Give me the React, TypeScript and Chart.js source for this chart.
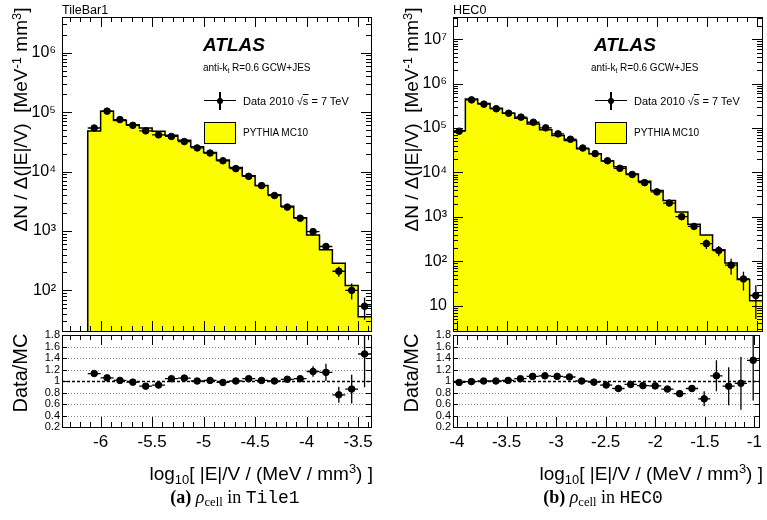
import { useEffect, useRef } from "react"
import { Chart, registerables } from "chart.js"
import type { Plugin } from "chart.js"

Chart.register(...registerables)

// ---------- TileBar1 (a) ----------
const tileBinStart = -6.125
const tileBinWidth = 0.125
const tileMc = [48000, 104000, 72600, 61500, 54100, 47600, 40800, 33700, 26100, 21000, 15600, 11700, 8470, 5840, 4080, 2610, 1670, 858, 482, 286, 121, 36]
const tileData = [54100, 104000, 75000, 60000, 48500, 41500, 39000, 32000, 25000, 20500, 15200, 11200, 8300, 5800, 3950, 2520, 1640, 975, 548, 210, 100, 54]
const tileDataErr = [500, 800, 600, 500, 450, 400, 380, 330, 280, 240, 200, 160, 130, 100, 80, 60, 55, 60, 60, 40, 30, 22]
const tileRatio = [1.13, 1.055, 1.01, 0.98, 0.91, 0.93, 1.04, 1.05, 1.0, 1.01, 0.975, 1.0, 1.04, 1.01, 1.0, 1.03, 1.04, 1.165, 1.15, 0.76, 0.86, 1.47]
const tileRatioErr = [0.01, 0.01, 0.01, 0.01, 0.01, 0.01, 0.01, 0.01, 0.01, 0.01, 0.01, 0.012, 0.015, 0.018, 0.02, 0.025, 0.04, 0.09, 0.15, 0.14, 0.25, 0.58]
const tileXTicks = [-6, -5.5, -5, -4.5, -4, -3.5]
const tileYTicks = [1e2, 1e3, 1e4, 1e5, 1e6]

// ---------- HEC0 (b) ----------
const hecBinStart = -4.04
const hecBinWidth = 0.1236
const hecMc = [87300, 449000, 359000, 278000, 215000, 167000, 123000, 91800, 67600, 52300, 34200, 26400, 18200, 13400, 9180, 6310, 3910, 2350, 1290, 687, 392, 181, 92, 39, 13]
const hecData = [85000, 430000, 345000, 272000, 216000, 176000, 135000, 101000, 74000, 56000, 35500, 26500, 18300, 12400, 9000, 5900, 3650, 2050, 1010, 610, 250, 175, 82, 40, 17]
const hecDataErr = [600, 1500, 1300, 1100, 900, 800, 650, 500, 400, 330, 250, 200, 160, 130, 100, 80, 60, 45, 35, 40, 60, 45, 32, 18, 12]
const hecRatio = [0.975, 0.99, 1.0, 1.0, 1.01, 1.04, 1.08, 1.09, 1.08, 1.07, 1.0, 0.98, 0.93, 0.87, 0.94, 0.92, 0.915, 0.86, 0.78, 0.87, 0.69, 1.09, 0.91, 0.96, 1.36]
const hecRatioErr = [0.01, 0.01, 0.01, 0.01, 0.01, 0.01, 0.01, 0.01, 0.01, 0.01, 0.01, 0.012, 0.015, 0.02, 0.02, 0.03, 0.03, 0.035, 0.045, 0.06, 0.13, 0.27, 0.33, 0.46, 0.7]
const hecXTicks = [-4, -3.5, -3, -2.5, -2, -1.5, -1]
const hecYTicks = [1e1, 1e2, 1e3, 1e4, 1e5, 1e6, 1e7]

const ratioTicks = [0.2, 0.4, 0.6, 0.8, 1, 1.2, 1.4, 1.6, 1.8]

const YELLOW = "#fbfd00"
const SANS = "'Liberation Sans', Arial, Helvetica, sans-serif"
const SERIF = "'Liberation Serif', 'Times New Roman', serif"
const MONO = "'Liberation Mono', 'DejaVu Sans Mono', monospace"
const SUP = "⁰¹²³⁴⁵⁶⁷⁸⁹"

function powerLabel(v: number) {
  const e = Math.round(Math.log10(v))
  if (e === 1) return "10"
  return "10" + String(e).split("").map((d) => SUP[Number(d)]).join("")
}

// ROOT style frame with inward ticks, plus the dotted grid of the ratio pad
const frameTicks: Plugin = {
  id: "frameTicks",
  beforeDatasetsDraw(chart, _args, opts: any) {
    if (!opts.ratio) return
    const { ctx, chartArea: a } = chart
    const y = chart.scales.y
    ctx.save()
    for (const v of ratioTicks) {
      if (v <= (y.min as number) || v >= (y.max as number)) continue
      const py = Math.round(y.getPixelForValue(v)) + 0.5
      ctx.beginPath()
      if (v === 1) {
        ctx.setLineDash([3, 2])
        ctx.strokeStyle = "#000"
        ctx.lineWidth = 1.6
      } else {
        ctx.setLineDash([1, 2])
        ctx.strokeStyle = "#8a8a8a"
        ctx.lineWidth = 1
      }
      ctx.moveTo(a.left, py)
      ctx.lineTo(a.right, py)
      ctx.stroke()
    }
    ctx.restore()
  },
  afterDraw(chart, _args, opts: any) {
    const { ctx, chartArea: a } = chart
    const x = chart.scales.x
    const y = chart.scales.y
    ctx.save()
    ctx.strokeStyle = "#000"
    ctx.lineWidth = 1
    const seg = (x1: number, y1: number, x2: number, y2: number) => {
      ctx.beginPath()
      ctx.moveTo(x1, y1)
      ctx.lineTo(x2, y2)
      ctx.stroke()
    }
    const xmin = x.min as number
    const xmax = x.max as number
    for (let k = Math.ceil(xmin * 10 - 1e-6); k <= Math.floor(xmax * 10 + 1e-6); k++) {
      const px = Math.round(x.getPixelForValue(k / 10)) + 0.5
      const len = k % 5 === 0 ? opts.major : opts.minor
      seg(px, a.top, px, a.top + len)
      seg(px, a.bottom, px, a.bottom - len)
    }
    if (opts.ratio) {
      for (const v of ratioTicks) {
        const py = Math.round(y.getPixelForValue(v)) + 0.5
        seg(a.left, py, a.left + 5, py)
        seg(a.right, py, a.right - 5, py)
      }
    } else {
      const lo = Math.floor(Math.log10(y.min as number))
      const hi = Math.ceil(Math.log10(y.max as number))
      for (let d = lo; d <= hi; d++) {
        for (let m = 1; m <= 9; m++) {
          const v = m * Math.pow(10, d)
          if (v < (y.min as number) || v > (y.max as number)) continue
          const py = Math.round(y.getPixelForValue(v)) + 0.5
          const len = m === 1 ? opts.major : opts.minor
          seg(a.left, py, a.left + len, py)
          seg(a.right, py, a.right - len, py)
        }
      }
    }
    ctx.strokeRect(Math.round(a.left) + 0.5, Math.round(a.top) + 0.5, Math.round(a.right - a.left), Math.round(a.bottom - a.top))
    ctx.restore()
  },
}

// horizontal bin-width bars and vertical error bars on the data points
const errorBars: Plugin = {
  id: "errorBars",
  afterDatasetsDraw(chart) {
    const { ctx, chartArea: a } = chart
    const x = chart.scales.x
    const y = chart.scales.y
    ctx.save()
    ctx.beginPath()
    ctx.rect(a.left, a.top, a.right - a.left, a.bottom - a.top)
    ctx.clip()
    ctx.strokeStyle = "#000"
    ctx.lineWidth = 1.3
    chart.data.datasets.forEach((ds: any) => {
      if (!ds.yErr) return
      ds.data.forEach((p: { x: number; y: number }, i: number) => {
        const px = x.getPixelForValue(p.x)
        const py = y.getPixelForValue(p.y)
        const lo = Math.max(p.y - ds.yErr[i], y.min as number)
        ctx.beginPath()
        ctx.moveTo(x.getPixelForValue(p.x - ds.halfWidth), py)
        ctx.lineTo(x.getPixelForValue(p.x + ds.halfWidth), py)
        ctx.moveTo(px, y.getPixelForValue(lo))
        ctx.lineTo(px, y.getPixelForValue(p.y + ds.yErr[i]))
        ctx.stroke()
      })
    })
    ctx.restore()
  },
}

interface MainProps {
  binStart: number
  binWidth: number
  mc: number[]
  data: number[]
  dataErr: number[]
  yTicks: number[]
  xMin: number
  xMax: number
  yMin: number
  yMax: number
  axisWidth: number
  padRight: number
}

function MainChart(p: MainProps) {
  const chartRef = useRef<HTMLCanvasElement>(null)

  useEffect(() => {
    if (!chartRef.current) return
    const edges = p.mc.map((_, i) => p.binStart + i * p.binWidth)
    const last = p.mc.length - 1
    // left edge of every bin, plus the closing right edge
    const steps = [
      { x: edges[0], y: p.yMin },
      ...p.mc.map((v, i) => ({ x: edges[i], y: v })),
      { x: edges[last] + p.binWidth, y: p.mc[last] },
    ]
    const points = p.data.map((v, i) => ({ x: edges[i] + p.binWidth / 2, y: v }))

    const chart = new Chart(chartRef.current, {
      type: "line",
      data: {
        datasets: [
          {
            data: steps,
            order: 2,
            stepped: "before",
            fill: "start",
            backgroundColor: YELLOW,
            borderColor: "#000",
            borderWidth: 1.5,
            pointRadius: 0,
          },
          {
            type: "scatter",
            data: points,
            order: 1,
            yErr: p.dataErr,
            halfWidth: p.binWidth / 2,
            pointRadius: 3.3,
            backgroundColor: "#000",
            borderColor: "#000",
          } as any,
        ],
      },
      options: {
        animation: false,
        responsive: true,
        maintainAspectRatio: false,
        events: [],
        layout: { padding: { top: 17, right: p.padRight, bottom: 1, left: 0 } },
        plugins: {
          legend: { display: false },
          tooltip: { enabled: false },
          frameTicks: { major: 10, minor: 5, ratio: false },
        } as any,
        scales: {
          x: { type: "linear", min: p.xMin, max: p.xMax, display: false },
          y: {
            type: "logarithmic",
            min: p.yMin,
            max: p.yMax,
            afterBuildTicks: (axis) => {
              axis.ticks = p.yTicks.map((value) => ({ value }))
            },
            afterFit: (axis: any) => {
              axis.width = p.axisWidth
              // the decade labels sit well inside the frame, no overflow room needed
              axis.paddingTop = 0
              axis.paddingBottom = 0
            },
            grid: { display: false, drawTicks: false },
            border: { display: false },
            ticks: {
              autoSkip: false,
              padding: 6,
              color: "#000",
              font: { family: SANS, size: 16 },
              callback: (v) => powerLabel(Number(v)),
            },
          },
        },
      },
      plugins: [frameTicks, errorBars],
    })

    return () => {
      chart.destroy()
    }
  }, [])

  return <canvas ref={chartRef} />
}

interface RatioProps {
  binStart: number
  binWidth: number
  ratio: number[]
  ratioErr: number[]
  xTicks: number[]
  xMin: number
  xMax: number
  axisWidth: number
  padRight: number
}

function RatioChart(p: RatioProps) {
  const chartRef = useRef<HTMLCanvasElement>(null)

  useEffect(() => {
    if (!chartRef.current) return
    const points = p.ratio.map((v, i) => ({ x: p.binStart + (i + 0.5) * p.binWidth, y: v }))

    const chart = new Chart(chartRef.current, {
      type: "scatter",
      data: {
        datasets: [
          {
            data: points,
            yErr: p.ratioErr,
            halfWidth: p.binWidth / 2,
            pointRadius: 3.3,
            backgroundColor: "#000",
            borderColor: "#000",
          } as any,
        ],
      },
      options: {
        animation: false,
        responsive: true,
        maintainAspectRatio: false,
        events: [],
        layout: { padding: { top: 15, right: p.padRight, bottom: 0, left: 0 } },
        plugins: {
          legend: { display: false },
          tooltip: { enabled: false },
          frameTicks: { major: 10, minor: 5, ratio: true },
        } as any,
        scales: {
          x: {
            type: "linear",
            min: p.xMin,
            max: p.xMax,
            afterBuildTicks: (axis) => {
              axis.ticks = p.xTicks.map((value) => ({ value }))
            },
            afterFit: (axis) => {
              axis.height = 63
            },
            grid: { display: false, drawTicks: false },
            border: { display: false },
            ticks: {
              autoSkip: false,
              maxRotation: 0,
              padding: 5,
              color: "#000",
              font: { family: SANS, size: 17 },
              callback: (v) => String(v),
            },
          },
          y: {
            type: "linear",
            min: 0.2,
            max: 1.8,
            afterBuildTicks: (axis) => {
              axis.ticks = ratioTicks.map((value) => ({ value }))
            },
            afterFit: (axis) => {
              axis.width = p.axisWidth
            },
            grid: { display: false, drawTicks: false },
            border: { display: false },
            ticks: {
              autoSkip: false,
              padding: 2,
              color: "#000",
              font: { family: SANS, size: 11, lineHeight: 1 },
              callback: (v) => (Number(v) === 1 ? "1" : Number(v).toFixed(1)),
            },
          },
        },
      },
      plugins: [frameTicks, errorBars],
    })

    return () => {
      chart.destroy()
    }
  }, [])

  return <canvas ref={chartRef} />
}

// text placed by its baseline
function Txt({ x, base, size, children, style }: { x: number; base: number; size: number; children: any; style?: any }) {
  return (
    <div
      style={{
        position: "absolute",
        left: x,
        top: base - size * 0.845,
        fontSize: size,
        lineHeight: 1,
        whiteSpace: "pre",
        fontFamily: SANS,
        color: "#000",
        ...style,
      }}
    >
      {children}
    </div>
  )
}

function RotTitle({ cx, cy, size, children }: { cx: number; cy: number; size: number; children: any }) {
  const w = 320
  const h = size
  return (
    <div
      style={{
        position: "absolute",
        left: cx - w / 2,
        top: cy - h / 2,
        width: w,
        height: h,
        lineHeight: `${h}px`,
        fontSize: size,
        fontFamily: SANS,
        textAlign: "center",
        whiteSpace: "pre",
        transform: "rotate(-90deg)",
      }}
    >
      {children}
    </div>
  )
}

const sup = (t: string) => <span style={{ fontSize: "0.68em", position: "relative", top: "-0.5em" }}>{t}</span>
const sub = (t: string) => <span style={{ fontSize: "0.68em", position: "relative", top: "0.3em" }}>{t}</span>

function Decorations({ off, label, caption, captionCx, atlasX, antiX, xTitleRight }: any) {
  const lx = off + 204
  return (
    <>
      <Txt x={off + 62} base={15} size={12.5}>{label}</Txt>
      <Txt x={atlasX} base={51} size={19} style={{ fontWeight: "bold", fontStyle: "italic" }}>ATLAS</Txt>
      <Txt x={antiX} base={71} size={10}>
        anti-k{sub("t")} R=0.6 GCW+JES
      </Txt>
      <div style={{ position: "absolute", left: lx, top: 100, width: 32, height: 1.4, background: "#000" }} />
      <div style={{ position: "absolute", left: lx + 15.3, top: 92, width: 1.4, height: 18, background: "#000" }} />
      <div style={{ position: "absolute", left: lx + 13, top: 97.7, width: 6.4, height: 6.4, borderRadius: "50%", background: "#000" }} />
      <Txt x={lx + 39} base={105.5} size={11}>
        Data 2010 √<span style={{ textDecoration: "overline" }}>s</span> = 7 TeV
      </Txt>
      <div
        style={{
          position: "absolute",
          left: lx,
          top: 122,
          width: 32,
          height: 22,
          background: YELLOW,
          border: "1.5px solid #000",
          boxSizing: "border-box",
        }}
      />
      <Txt x={lx + 39} base={136} size={10}>PYTHIA MC10</Txt>

      <RotTitle cx={off + 20} cy={119} size={19}>
        ΔN / Δ(|E|/V)  [MeV{sup("-1")} mm{sup("3")}]
      </RotTitle>
      <RotTitle cx={off + 20} cy={373} size={20}>
        Data/MC
      </RotTitle>
      <div
        style={{
          position: "absolute",
          right: 767 - xTitleRight,
          top: 480 - 19 * 0.845,
          fontSize: 19,
          lineHeight: 1,
          fontFamily: SANS,
          whiteSpace: "pre",
        }}
      >
        log{sub("10")}[ |E|/V / (MeV / mm{sup("3")}) ]
      </div>
      <div
        style={{
          position: "absolute",
          left: captionCx - 150,
          width: 300,
          textAlign: "center",
          top: 503 - 18 * 0.84,
          fontSize: 18,
          lineHeight: 1,
          fontFamily: SERIF,
          whiteSpace: "pre",
        }}
      >
        <b>({caption[0]})</b> <i>ρ</i>
        <span style={{ fontSize: "0.7em", position: "relative", top: "0.25em" }}>cell</span> in{" "}
        <span style={{ fontFamily: MONO }}>{caption[1]}</span>
      </div>
    </>
  )
}

export default function App() {
  return (
    <div
      style={{
        position: "absolute",
        left: 0,
        top: 0,
        width: 767,
        height: 520,
        background: "#fff",
        overflow: "hidden",
        fontFamily: SANS,
      }}
    >
      <div style={{ position: "absolute", left: 0, top: 0, width: 385, height: 336 }}>
        <MainChart
          binStart={tileBinStart}
          binWidth={tileBinWidth}
          mc={tileMc}
          data={tileData}
          dataErr={tileDataErr}
          yTicks={tileYTicks}
          xMin={-6.375}
          xMax={-3.375}
          yMin={20.7}
          yMax={4.0e6}
          axisWidth={62}
          padRight={14}
        />
      </div>
      <div style={{ position: "absolute", left: 0, top: 320, width: 385, height: 170 }}>
        <RatioChart
          binStart={tileBinStart}
          binWidth={tileBinWidth}
          ratio={tileRatio}
          ratioErr={tileRatioErr}
          xTicks={tileXTicks}
          xMin={-6.375}
          xMax={-3.375}
          axisWidth={62}
          padRight={14}
        />
      </div>
      <div style={{ position: "absolute", left: 385, top: 0, width: 382, height: 336 }}>
        <MainChart
          binStart={hecBinStart}
          binWidth={hecBinWidth}
          mc={hecMc}
          data={hecData}
          dataErr={hecDataErr}
          yTicks={hecYTicks}
          xMin={-4.04}
          xMax={-0.95}
          yMin={2.7}
          yMax={3.16e7}
          axisWidth={68}
          padRight={5}
        />
      </div>
      <div style={{ position: "absolute", left: 385, top: 320, width: 382, height: 170 }}>
        <RatioChart
          binStart={hecBinStart}
          binWidth={hecBinWidth}
          ratio={hecRatio}
          ratioErr={hecRatioErr}
          xTicks={hecXTicks}
          xMin={-4.04}
          xMax={-0.95}
          axisWidth={68}
          padRight={5}
        />
      </div>

      <Decorations off={0} label="TileBar1" caption={["a", "Tile1"]} captionCx={235} atlasX={203} antiX={203} xTitleRight={373} />
      <Decorations off={391} label="HEC0" caption={["b", "HEC0"]} captionCx={603} atlasX={594} antiX={591} xTitleRight={763} />
    </div>
  )
}
